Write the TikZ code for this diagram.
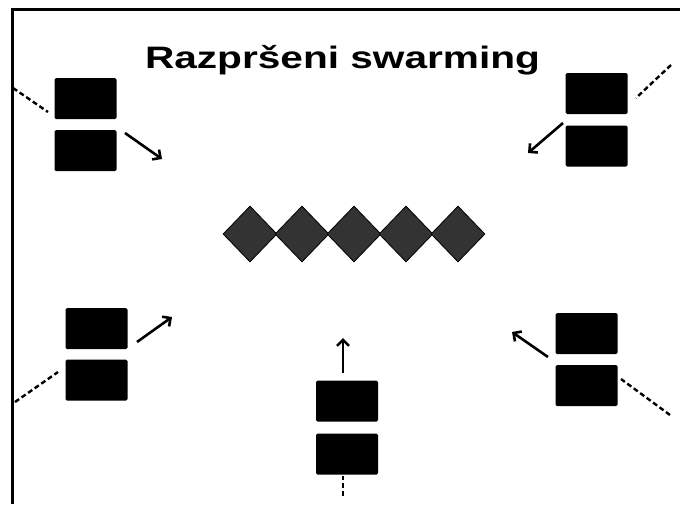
\documentclass[tikz,border=0pt]{standalone}
\usepackage{fontspec}
\setmainfont{Liberation Sans}
\usetikzlibrary{arrows.meta, shapes.geometric}
\definecolor{birdfill}{RGB}{51, 51, 51}
\tikzset{
    panel/.style={fill=black, rounded corners=1.5pt, minimum width=62pt,
        minimum height=41pt, inner sep=0pt},
    bird/.style={diamond, draw=black, fill=birdfill, line width=.8pt,
        minimum width=54pt, minimum height=56pt, inner sep=0pt},
    heading/.style={line width=2.6pt, -{Straight Barb[length=6pt, width=12pt]}},
    trail/.style={line width=2.4pt, dash pattern=on 5pt off 3pt},
}

\begin{document}
\begin{tikzpicture}[x=1pt, y=-1pt]
    \useasboundingbox (0, 0) rectangle (680, 504);
    \draw[line width=3pt] (12, 504) -- (12, 9) -- (680, 9);
    \node[anchor=base, font=\bfseries\fontsize{31}{36}\selectfont, xscale=1.31]
        (title) at (342.5, 68) {Razpršeni swarming};

    % the swarm
    \foreach \x [count=\i] in {250, 302, 354, 406, 458}
        \node[bird] (b\i) at (\x, 234) {};

    % satellites
    \node[panel] (tl1) at (85.5, 98.5) {};
    \node[panel] (tl2) at (85.5, 150.5) {};
    \node[panel] (tr1) at (596.5, 93.5) {};
    \node[panel] (tr2) at (596.5, 146) {};
    \node[panel] (bl1) at (96.5, 328.5) {};
    \node[panel] (bl2) at (96.5, 380) {};
    \node[panel] (br1) at (586.5, 333.5) {};
    \node[panel] (br2) at (586.5, 385.5) {};
    \node[panel] (bc1) at (347, 401) {};
    \node[panel] (bc2) at (347, 454) {};

    \coordinate (tlA) at (125, 133);  \coordinate (tlB) at (162, 159);
    \coordinate (tlC) at (13, 88);    \coordinate (tlD) at (48, 112);
    \coordinate (trA) at (563, 123);  \coordinate (trB) at (528, 153);
    \coordinate (trC) at (671, 65);   \coordinate (trD) at (636, 98);
    \coordinate (blA) at (137, 342);  \coordinate (blB) at (172, 317);
    \coordinate (blC) at (15, 402);   \coordinate (blD) at (58, 372);
    \coordinate (brA) at (548, 357);  \coordinate (brB) at (512, 332);
    \coordinate (brC) at (670, 415);  \coordinate (brD) at (621, 379);
    \coordinate (bcA) at (343, 373);  \coordinate (bcB) at (343, 338);
    \coordinate (bcC) at (343, 496);  \coordinate (bcD) at (343, 476);

    \foreach \s in {tl, tr, bl, br, bc} {
        \draw[heading] (\s A) -- (\s B);
        \draw[trail] (\s C) -- (\s D);
    }
\end{tikzpicture}
\end{document}
